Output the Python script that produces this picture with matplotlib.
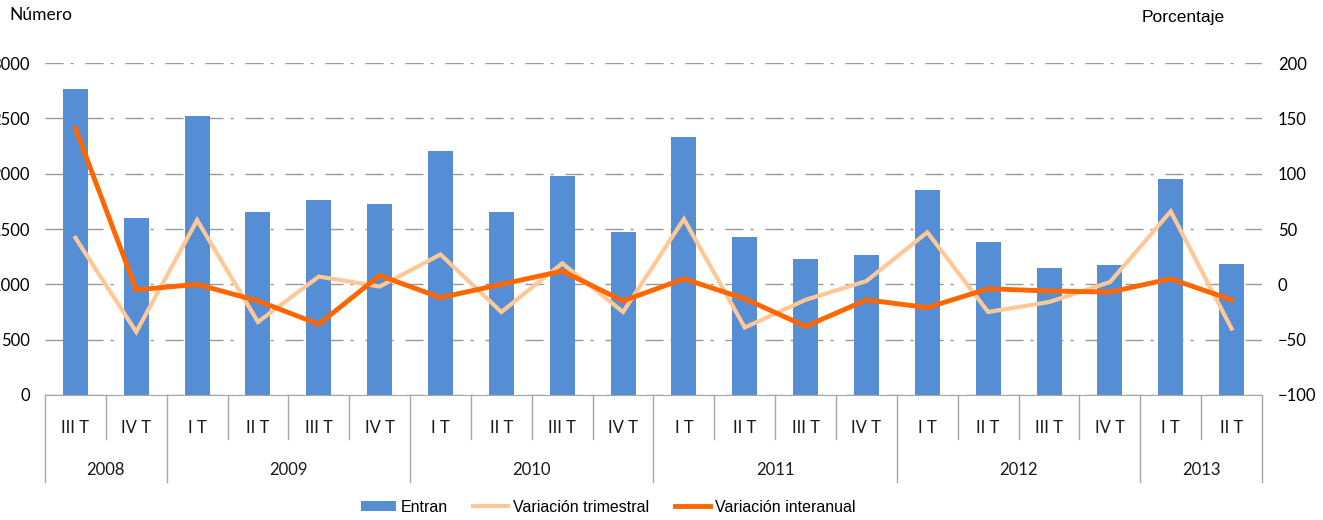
import matplotlib.pyplot as plt
from matplotlib.transforms import blended_transform_factory

# quarters and years of the category axis
quarters = ["III T", "IV T",
            "I T", "II T", "III T", "IV T",
            "I T", "II T", "III T", "IV T",
            "I T", "II T", "III T", "IV T",
            "I T", "II T", "III T", "IV T",
            "I T", "II T"]
years = ["2008", "2009", "2010", "2011", "2012", "2013"]
quarters_per_year = [2, 4, 4, 4, 4, 2]

# series
entran = [2765, 1599, 2521, 1654, 1762, 1726, 2205, 1654, 1979, 1473,
          2331, 1428, 1229, 1265, 1852, 1383, 1148, 1175, 1952, 1184]
var_trimestral = [42, -43, 58, -34, 7, -2, 27, -25, 19, -25,
                  59, -39, -14, 3, 47, -25, -16, 2, 66, -40]
var_interanual = [141, -5, 0, -15, -36, 8, -12, 0, 12, -15,
                  5, -13, -38, -14, -21, -4, -6, -7, 5, -14]

blue = "#558ED5"
light = "#FFC896"
dark = "#FF6600"
grey = "#A6A6A6"

fig = plt.figure(figsize=(13.23, 5.2), dpi=100)
ax = fig.add_axes([0.034, 0.2404, 0.9199, 0.6384])
ax2 = ax.twinx()

x = list(range(len(quarters)))
bars = ax.bar(x, entran, width=0.41, color=blue, label="Entran", zorder=2)
l1, = ax2.plot(x, var_trimestral, color=light, lw=3.0, label="Variación trimestral",
               solid_joinstyle="miter")
l2, = ax2.plot(x, var_interanual, color=dark, lw=3.5, label="Variación interanual",
               solid_joinstyle="miter")

ax.set_xlim(-0.5, len(quarters) - 0.5)
ax.set_ylim(0, 3000)
ax.set_yticks(range(0, 3001, 500))
ax2.set_ylim(-100, 200)
ax2.set_yticks(range(-100, 201, 50))

# dash-dot gridlines behind the bars
ax.set_axisbelow(True)
ax.yaxis.grid(True, color="#999999", lw=1.0, linestyle=(0, (13, 5, 2.3, 8.5)))

for a in (ax, ax2):
    for s in a.spines.values():
        s.set_visible(False)
ax.spines["bottom"].set_visible(True)
ax.spines["bottom"].set_color(grey)

tick_font = dict(family="Lato", size=12)
ax.tick_params(axis="y", length=0, pad=10.8, labelsize=12)
ax2.tick_params(axis="y", length=0, pad=11.5, labelsize=12)
for lab in ax.get_yticklabels() + ax2.get_yticklabels():
    lab.set_family("Lato")
ax.set_xticks([])

# two-level category axis
trans = blended_transform_factory(ax.transData, ax.transAxes)
for i, q in enumerate(quarters):
    ax.text(i, -0.098, q, transform=trans, ha="center", va="center",
            color="#1a1a1a", **tick_font)
boundaries = [-0.5]
for n in quarters_per_year:
    boundaries.append(boundaries[-1] + n)
for i in range(len(quarters) + 1):
    b = i - 0.5
    low = -0.262 if b in boundaries else -0.1325
    ax.plot([b, b], [0, low], transform=trans, color=grey, lw=1, clip_on=False)
for y, a, b in zip(years, boundaries[:-1], boundaries[1:]):
    ax.text((a + b) / 2, -0.225, y, transform=trans, ha="center", va="center",
            color="#1a1a1a", **tick_font)

fig.text(0.0068, 0.972, "Número", ha="left", va="center", family="Lato", size=12.5)
fig.text(0.863, 0.967, "Porcentaje", ha="left", va="center",
         family="Liberation Sans", size=12.5)

fig.legend([bars, l1, l2], ["Entran", "Variación trimestral", "Variación interanual"],
           loc="center", bbox_to_anchor=(0.4596, 0.025), ncol=3, frameon=False,
           handlelength=2.2, handleheight=0.55, handletextpad=0.3, columnspacing=1.6,
           prop=dict(family="Liberation Sans", size=11.5))

fig.savefig("out.png", dpi=100)
